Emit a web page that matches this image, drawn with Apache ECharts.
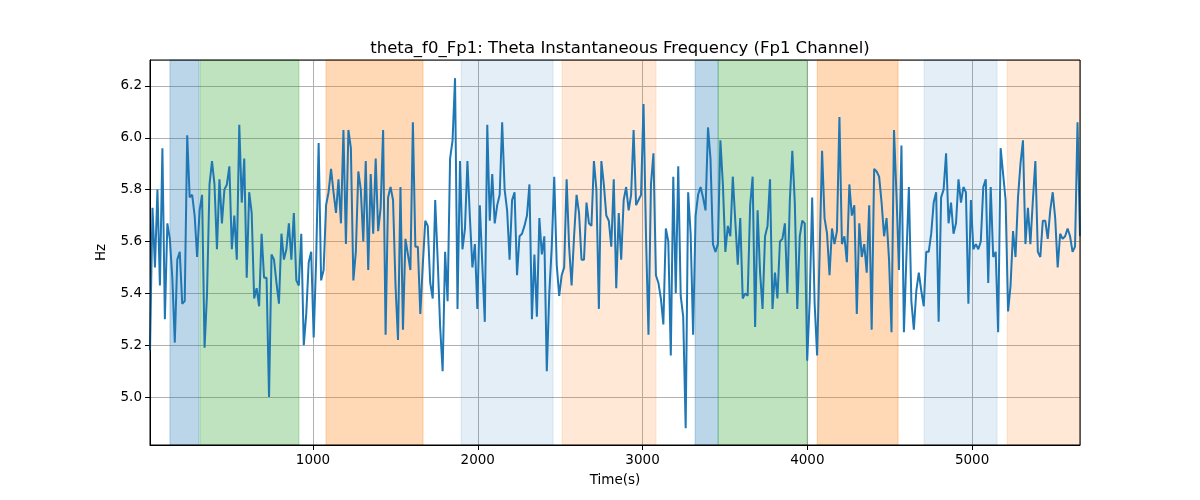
<!DOCTYPE html>
<html>
<head>
<meta charset="utf-8">
<script src="https://cdn.jsdelivr.net/npm/echarts@6/dist/echarts.min.js"></script>
<style>html,body{margin:0;padding:0;background:#fff}#c{width:1200px;height:500px}</style>
</head>
<body>
<div id="c"></div>
<script>
// sampling grid (seconds)
const T0 = 11;
const DT = 15.05;

// theta instantaneous frequency (Hz), in five consecutive segments
const seg1 = [5.18,5.73,5.50,5.80,5.43,5.96,5.30,5.67,5.61,5.46,
5.21,5.53,5.56,5.36,5.37,6.01,5.77,5.78,5.70,5.54,
5.72,5.78,5.19,5.40,5.82,5.91,5.82,5.57,5.84,5.67,
5.80,5.82,5.89,5.57,5.70,5.53,6.05,5.75,5.92,5.46,
5.79,5.71,5.38,5.42,5.35,5.63,5.46,5.46,5.00,5.55,
5.53,5.44,5.36,5.63,5.53,5.57,5.67,5.53,5.71,5.45,
5.43,5.63,5.20,5.32,5.52,5.56,5.23,5.53,5.98,5.45,
5.49,5.74,5.79,5.88,5.79,5.71,5.84];
const seg2 = [5.67,6.03,5.59,6.03,5.96,5.45,5.56,5.87,5.80,5.60,
5.91,5.49,5.86,5.63,5.92,5.64,5.73,6.03,5.24,5.77,
5.81,5.76,5.43,5.22,5.81,5.26,5.61,5.55,5.49,6.06,
5.58,5.58,5.32,5.51,5.68,5.66,5.44,5.38,5.76,5.53,
5.27,5.10,5.56,5.37,5.92,5.99,6.23,5.34,5.91,5.57,
5.65,5.91,5.69,5.50,5.59,5.34,5.74,5.51,5.29,6.05,
5.68,5.86,5.67,5.74,5.78,6.06,5.80,5.72,5.53,5.76,
5.79,5.47,5.62,5.63,5.66,5.70,5.82];
const seg3 = [5.30,5.55,5.31,5.69,5.55,5.62,5.10,5.40,5.58,5.85,
5.51,5.39,5.47,5.50,5.84,5.58,5.43,5.62,5.78,5.71,
5.53,5.53,5.75,5.67,5.66,5.91,5.80,5.34,5.91,5.82,
5.70,5.68,5.58,5.84,5.42,5.71,5.53,5.76,5.81,5.72,
5.78,6.03,5.74,5.76,5.78,6.13,5.62,5.24,5.82,5.94,
5.47,5.44,5.38,5.28,5.65,5.60,5.16,5.85,5.40,5.89,
5.39,5.31,4.88,5.79,5.63,5.24,5.70,5.78,5.81,5.77,
5.72,6.04,5.92,5.59,5.56,5.59];
const seg4 = [5.99,5.82,5.56,5.66,5.62,5.85,5.68,5.51,5.69,5.38,
5.40,5.39,5.74,5.85,5.27,5.72,5.48,5.34,5.62,5.66,
5.84,5.34,5.48,5.38,5.60,5.61,5.67,5.40,5.76,5.95,
5.75,5.34,5.62,5.68,5.67,5.14,5.37,5.77,5.36,5.16,
5.55,5.95,5.69,5.63,5.47,5.65,5.59,5.64,6.08,5.59,
5.62,5.52,5.82,5.70,5.74,5.32,5.67,5.54,5.59,5.48,
5.74,5.26,5.88,5.87,5.85,5.75,5.62,5.69,5.53,5.25,
6.03,5.78,5.49,5.97,5.25,5.54,5.81];
const seg5 = [5.37,5.26,5.41,5.48,5.41,5.35,5.56,5.56,5.63,5.75,
5.79,5.29,5.77,5.80,5.94,5.67,5.75,5.63,5.67,5.84,
5.75,5.81,5.79,5.36,5.76,5.57,5.59,5.57,5.60,5.81,
5.84,5.44,5.81,5.54,5.56,5.25,5.96,5.86,5.76,5.33,
5.43,5.64,5.54,5.77,5.90,5.99,5.59,5.73,5.59,5.76,
5.91,5.56,5.54,5.68,5.68,5.61,5.72,5.79,5.69,5.50,
5.63,5.61,5.62,5.65,5.62,5.56,5.58,6.06,5.62];

// shaded intervals: [start s, end s, kind]
const bandStarts = [132, 314, 1079, 1899, 2512, 3319, 3459, 4060, 4709, 5213];
const bandEnds   = [308, 915, 1668, 2457, 3082, 3459, 3999, 4551, 5152, 5700];
const bandKinds  = ['blue','green','orange','lightblue','lightorange','blue','green','orange','lightblue','lightorange'];

const title = 'theta_f0_Fp1: Theta Instantaneous Frequency (Fp1 Channel)';
const xName = 'Time(s)';
const yName = 'Hz';

const bandColors = {
  blue: 'rgba(31,119,180,0.3)',
  green: 'rgba(44,160,44,0.3)',
  orange: 'rgba(255,127,14,0.3)',
  lightblue: 'rgba(31,119,180,0.12)',
  lightorange: 'rgba(255,127,14,0.17)'
};

const values = seg1.concat(seg2, seg3, seg4, seg5);
const data = values.map((v, i) => [T0 + i * DT, v]);
const xMax = T0 + (values.length - 1) * DT;

const font = 'DejaVu Sans';
const chart = echarts.init(document.getElementById('c'), null, {renderer: 'canvas'});
chart.setOption({
  animation: false,
  backgroundColor: '#fff',
  title: {
    text: title, left: 615, top: 35, textAlign: 'center',
    textStyle: {fontFamily: font, fontSize: 16.5, fontWeight: 'normal', color: '#000'}
  },
  grid: {left: 150, right: 120, top: 60, bottom: 55, show: true, borderColor: '#000', borderWidth: 1, backgroundColor: 'transparent', z: 5},
  xAxis: {
    type: 'value', min: T0, max: xMax, splitNumber: 5, z: 1,
    name: xName, nameLocation: 'middle', nameGap: 28,
    nameTextStyle: {fontFamily: font, fontSize: 13.5, color: '#000'},
    axisLine: {show: true, lineStyle: {color: '#000', width: 1}},
    axisTick: {show: true, length: 5, lineStyle: {color: '#000'}},
    axisLabel: {showMinLabel: false, showMaxLabel: false, margin: 8, fontFamily: font, fontSize: 13.5, color: '#000',
      formatter: v => String(Math.round(v))},
    splitLine: {show: true, lineStyle: {color: '#b0b0b0', width: 1}}
  },
  yAxis: {
    type: 'value', min: 4.815, max: 6.30, splitNumber: 7, z: 1,
    name: yName, nameLocation: 'middle', nameGap: 42, nameRotate: 90,
    nameTextStyle: {fontFamily: font, fontSize: 13.5, color: '#000'},
    axisLine: {show: true, lineStyle: {color: '#000', width: 1}},
    axisTick: {show: true, length: 5, lineStyle: {color: '#000'}},
    axisLabel: {showMinLabel: false, showMaxLabel: false, margin: 8, fontFamily: font, fontSize: 13.5, color: '#000',
      formatter: v => v.toFixed(1)},
    splitLine: {show: true, lineStyle: {color: '#b0b0b0', width: 1}}
  },
  series: [
    {
      type: 'line', data: [], z: 0, silent: true,
      markArea: {
        silent: true,
        data: bandStarts.map((s, i) => [
          {xAxis: s, itemStyle: {color: bandColors[bandKinds[i]], borderColor: bandColors[bandKinds[i]], borderWidth: 1}},
          {xAxis: Math.min(bandEnds[i], xMax)}
        ])
      }
    },
    {
      type: 'line', data: data, z: 3, showSymbol: false, symbol: 'none',
      lineStyle: {color: '#1f77b4', width: 2}, itemStyle: {color: '#1f77b4'}
    }
  ]
});
</script>
</body>
</html>
